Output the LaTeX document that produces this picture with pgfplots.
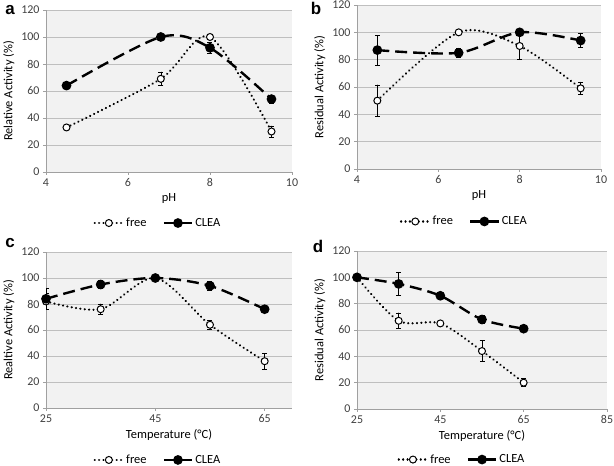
\documentclass[border=0pt]{standalone}
\usepackage{fontspec}
\setmainfont{Carlito}
\newfontfamily\panelfont{Liberation Sans}
\usepackage{pgfplots}
\pgfplotsset{compat=1.18}
\definecolor{plotbg}{HTML}{F2F2F2}
\definecolor{gridc}{HTML}{BFBFBF}
\definecolor{axisc}{HTML}{A0A0A0}
\definecolor{tickc}{HTML}{404040}
\pgfplotsset{
  panel/.style={
    scale only axis,
    axis background/.style={fill=plotbg},
    ymin=0, ymax=120, ytick={0,20,...,120},
    ymajorgrids,
    grid style={gridc, line width=0.9pt},
    axis x line*=bottom, axis y line*=left,
    axis line style={axisc, line width=0.8pt, -},
    tick style={axisc, line width=0.8pt},
    tick align=outside,
    major tick length=3bp,
    tick label style={font=\fontsize{12}{13}\selectfont, text=tickc},
    label style={font=\fontsize{12.5}{14}\selectfont},
    /pgf/number format/assume math mode=true,
    legend columns=2,
    legend cell align=left,
    legend style={draw=none, fill=none, font=\fontsize{12.5}{14}\selectfont,
      /tikz/every even column/.append style={column sep=14bp}},
    legend image code/.code={\draw[mark repeat=2, mark phase=2, ##1]
      plot coordinates {(0cm,0cm) (0.5cm,0cm) (1.0cm,0cm)};},
    error bars/y dir=both, error bars/y explicit,
    error bars/error bar style={solid, black, line width=0.5pt},
    error bars/error mark options={rotate=90, mark size=2.5bp, solid, black, line width=0.5pt},
  },
  free/.style={black, line width=2.4pt, dash pattern=on 0.01pt off 4.4pt, line cap=round,
    smooth, mark=*, mark size=3.5bp,
    mark options={solid, fill=white, draw=black, line width=1pt}},
  clea/.style={black, line width=2.4pt, dash pattern=on 12pt off 6pt,
    smooth, mark=*, mark size=3.6bp,
    mark options={solid, fill=black, draw=black}},
}
\begin{document}
\begin{tikzpicture}
\useasboundingbox (0,0) rectangle (614bp,466bp);

% a
\begin{axis}[panel, at={(46bp,294bp)}, anchor=south west, width=246bp, height=162bp,
  xmin=4, xmax=10, xtick={4,6,8,10}, xlabel={pH}, ylabel={Relative Activity (\%)},
  legend style={at={(0.455,-0.315)}, anchor=center}]
\addplot[free] coordinates {(4.5,33) +- (0,1.5) (6.8,69) +- (0,5) (8,100) +- (0,1) (9.5,30) +- (0,4)};
\addplot[clea] coordinates {(4.5,64) +- (0,1.5) (6.8,100) +- (0,1) (8,92) +- (0,4) (9.5,54) +- (0,3)};
\legend{free, CLEA}
\end{axis}

% b
\begin{axis}[panel, at={(357bp,297bp)}, anchor=south west, width=244bp, height=164bp,
  xmin=4, xmax=10, xtick={4,6,8,10}, xlabel={pH}, ylabel={Residual Activity (\%)},
  legend style={at={(0.44,-0.32)}, anchor=center}]
\addplot[free] coordinates {(4.5,50) +- (0,11.5) (6.5,100) +- (0,0.5) (8,90) +- (0,9.5) (9.5,59) +- (0,4.5)};
\addplot[clea] coordinates {(4.5,87) +- (0,11) (6.5,85) +- (0,3) (8,100) +- (0,0.5) (9.5,94) +- (0,5)};
\legend{free, CLEA}
\end{axis}

% c
\begin{axis}[panel, at={(46bp,58bp)}, anchor=south west, width=246bp, height=156bp,
  xmin=25, xmax=70, xtick={25,45,65}, xlabel={Temperature (°C)}, ylabel={Realtive Activity (\%)},
  legend style={at={(0.455,-0.333)}, anchor=center}]
\addplot[free] coordinates {(25,82) +- (0,6) (35,76) +- (0,4) (45,100) +- (0,1) (55,64) +- (0,3.5) (65,36) +- (0,6)};
\addplot[clea] coordinates {(25,84) +- (0,8) (35,95) +- (0,3) (45,100) +- (0,1) (55,94) +- (0,3.5) (65,76) +- (0,1)};
\legend{free, CLEA}
\end{axis}

% d
\begin{axis}[panel, at={(357bp,57bp)}, anchor=south west, width=250bp, height=158bp,
  xmin=25, xmax=85, xtick={25,45,65,85}, xlabel={Temperature (°C)}, ylabel={Residual Activity (\%)},
  legend style={at={(0.42,-0.32)}, anchor=center}]
\addplot[free] coordinates {(25,100) +- (0,0.5) (35,67) +- (0,6) (45,65) +- (0,1) (55,44) +- (0,8) (65,20) +- (0,3)};
\addplot[clea] coordinates {(25,100) +- (0,0.5) (35,95) +- (0,8.5) (45,86) +- (0,1) (55,68) +- (0,3) (65,61) +- (0,1)};
\legend{free, CLEA}
\end{axis}

\node[font=\panelfont\bfseries\fontsize{17}{17}\selectfont] at (10bp,456bp) {a};
\node[font=\panelfont\bfseries\fontsize{17}{17}\selectfont] at (316bp,458bp) {b};
\node[font=\panelfont\bfseries\fontsize{17}{17}\selectfont] at (10bp,223bp) {c};
\node[font=\panelfont\bfseries\fontsize{17}{17}\selectfont] at (318bp,220bp) {d};
\end{tikzpicture}
\end{document}
